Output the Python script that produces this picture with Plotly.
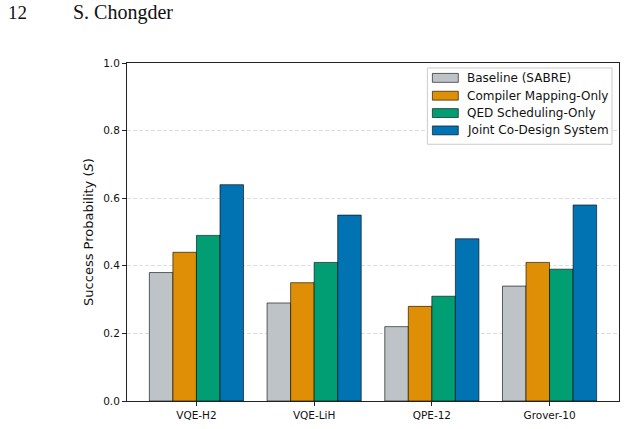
import plotly.graph_objects as go

categories = ["VQE-H2", "VQE-LiH", "QPE-12", "Grover-10"]
series_names = ["Baseline (SABRE)", "Compiler Mapping-Only", "QED Scheduling-Only", "Joint Co-Design System"]
baseline = [0.38, 0.29, 0.22, 0.34]
compiler_only = [0.44, 0.35, 0.28, 0.41]
qed_only = [0.49, 0.41, 0.31, 0.39]
joint = [0.64, 0.55, 0.48, 0.58]
colors = ["#bdc3c7", "#de8f05", "#029e73", "#0173b2"]
y_ticks = [0.0, 0.2, 0.4, 0.6, 0.8, 1.0]

W, H = 628, 429
L, R, T, B = 127, 8, 63, 25
pw, ph = W - L - R, H - T - B

fig = go.Figure()
for name, vals, col in zip(series_names, [baseline, compiler_only, qed_only, joint], colors):
    fig.add_trace(go.Bar(
        x=list(range(len(categories))), y=vals, name=name, showlegend=False,
        marker=dict(color=col, line=dict(color="rgba(0,0,0,0.6)", width=1)),
    ))

def px_x(p):
    return (p - L) / pw

def px_y(p):
    return (H - B - p) / ph

# custom legend (box, swatches, labels) in paper coordinates
shapes = [dict(type="rect", xref="paper", yref="paper",
               x0=px_x(428), x1=px_x(613), y0=px_y(145), y1=px_y(68),
               line=dict(color="#cccccc", width=1), fillcolor="rgba(255,255,255,0.9)", layer="above")]
annotations = []
row_y = [78, 96, 113.5, 131]
for name, col, yy in zip(series_names, colors, row_y):
    shapes.append(dict(type="rect", xref="paper", yref="paper",
                       x0=px_x(433), x1=px_x(459), y0=px_y(yy + 4.5), y1=px_y(yy - 4.5),
                       line=dict(color="rgba(0,0,0,0.6)", width=1), fillcolor=col, layer="above"))
    annotations.append(dict(text=name, xref="paper", yref="paper", x=px_x(466), y=px_y(yy),
                            xanchor="left", yanchor="middle", showarrow=False,
                            font=dict(family="DejaVu Sans", size=12, color="#111111")))

annotations += [
    dict(text="12", xref="paper", yref="paper", x=px_x(6), y=px_y(12),
         xanchor="left", yanchor="middle", showarrow=False,
         font=dict(family="Liberation Serif", size=19, color="#111111")),
    dict(text="S. Chongder", xref="paper", yref="paper", x=px_x(71), y=px_y(12),
         xanchor="left", yanchor="middle", showarrow=False,
         font=dict(family="Liberation Serif", size=20, color="#111111")),
]

fig.update_layout(
    width=W, height=H,
    margin=dict(l=L, r=R, t=T, b=B),
    barmode="group", bargap=0.2, bargroupgap=0,
    plot_bgcolor="white", paper_bgcolor="white",
    font=dict(family="DejaVu Sans", color="#111111", size=10.5),
    showlegend=False,
    xaxis=dict(
        range=[-0.59, 3.59], tickvals=list(range(len(categories))), ticktext=categories,
        showline=True, linecolor="#222222", linewidth=1, mirror=True,
        ticks="outside", ticklen=4, tickwidth=1, tickcolor="#222222",
        showgrid=False, zeroline=False, tickfont=dict(size=10.5),
    ),
    yaxis=dict(
        range=[0, 1.0], tickvals=y_ticks, tickformat=".1f",
        showline=True, linecolor="#222222", linewidth=1, mirror=True,
        ticks="outside", ticklen=4, tickwidth=1, tickcolor="#222222",
        showgrid=True, gridcolor="#dddddd", gridwidth=0.8, griddash="4px,2px",
        zeroline=False, tickfont=dict(size=10.5),
        title=dict(text="Success Probability (<i>S</i>)", font=dict(size=13), standoff=6),
    ),
    shapes=shapes,
    annotations=annotations,
)

fig.write_html("out.html")
